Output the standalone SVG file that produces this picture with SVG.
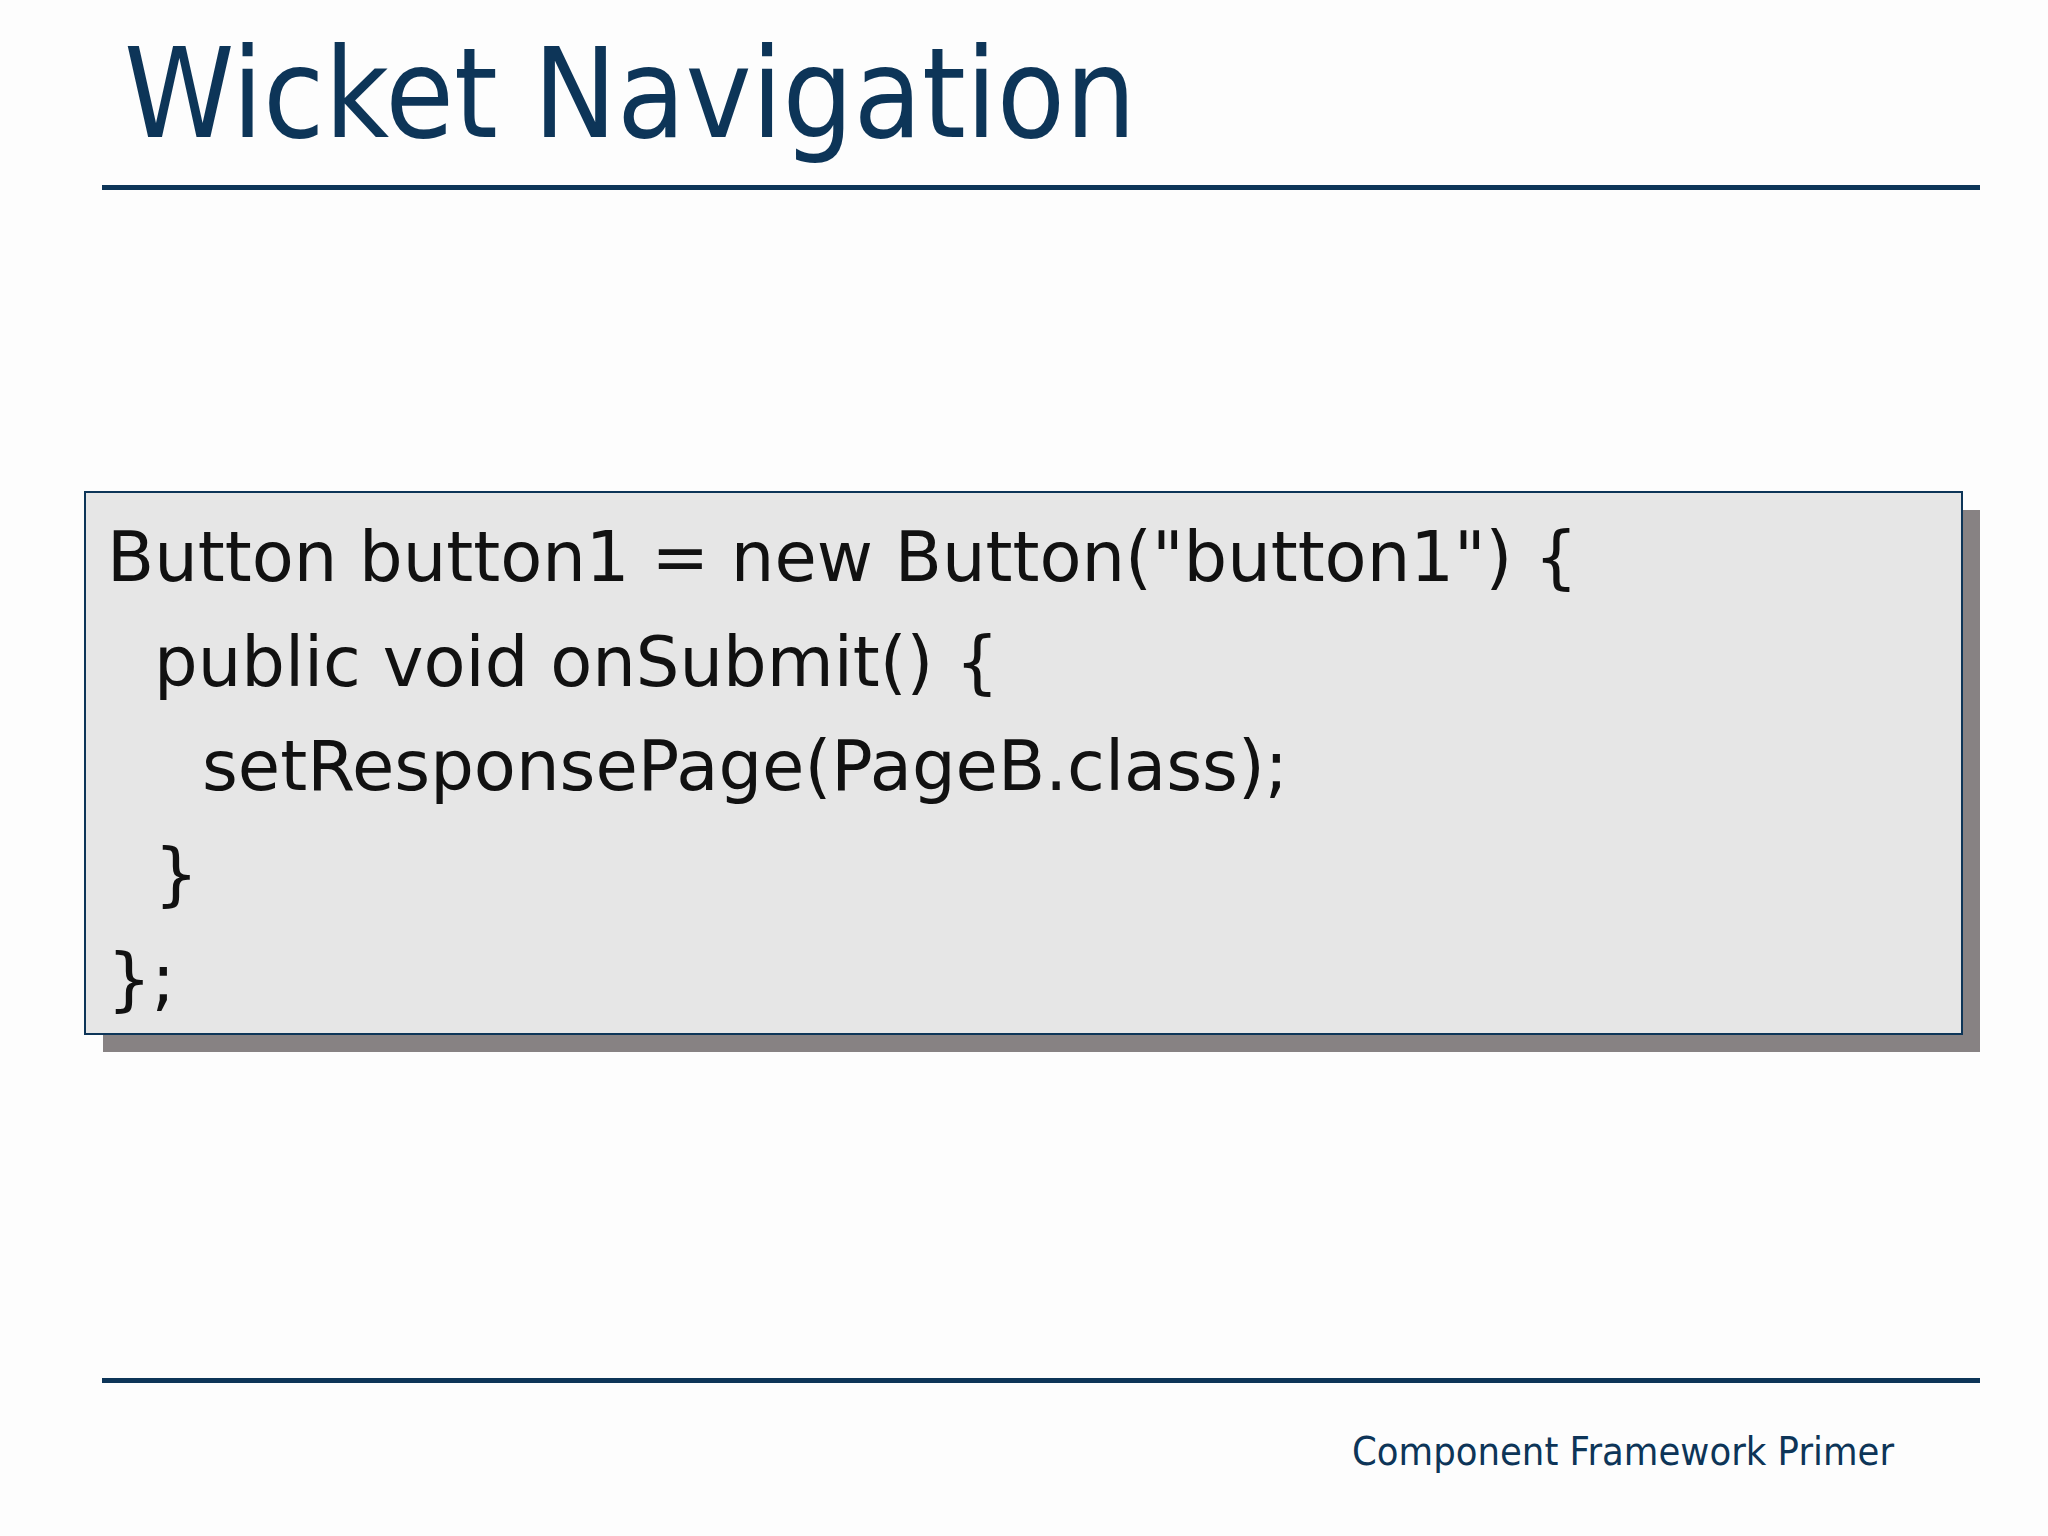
<svg xmlns="http://www.w3.org/2000/svg" width="2048" height="1536" viewBox="0 0 2048 1536">
<style>
.t{font-family:"DejaVu Sans",Verdana,sans-serif;}
.code{font-family:"DejaVu Sans",Verdana,sans-serif;font-size:70px;fill:#111;}
</style>
<rect width="2048" height="1536" fill="#fdfdfd"/>
<g id="title"><text class="t" x="124" y="137" font-size="124" fill="#0d3558" textLength="1012" lengthAdjust="spacingAndGlyphs">Wicket Navigation</text></g>
<rect x="102" y="185" width="1878" height="5" fill="#0d3558"/>
<g id="codebox">
<rect x="103" y="510" width="1877" height="542" fill="#878283"/>
<rect x="85" y="492" width="1877" height="542" fill="#e6e6e6" stroke="#0d3558" stroke-width="2"/>
<text class="code" x="107" y="581" textLength="1471" lengthAdjust="spacingAndGlyphs">Button button1 = new Button("button1") {</text>
<text class="code" x="154" y="686" textLength="845" lengthAdjust="spacingAndGlyphs">public void onSubmit() {</text>
<text class="code" x="202" y="790" textLength="1086" lengthAdjust="spacingAndGlyphs">setResponsePage(PageB.class);</text>
<text class="code" x="154" y="898">}</text>
<text class="code" x="107" y="1003">};</text>
</g>
<rect x="102" y="1378" width="1878" height="5" fill="#0d3558"/>
<g id="footer"><text class="t" x="1352" y="1465" font-size="39" fill="#0d3558" textLength="542" lengthAdjust="spacingAndGlyphs">Component Framework Primer</text></g>
</svg>
